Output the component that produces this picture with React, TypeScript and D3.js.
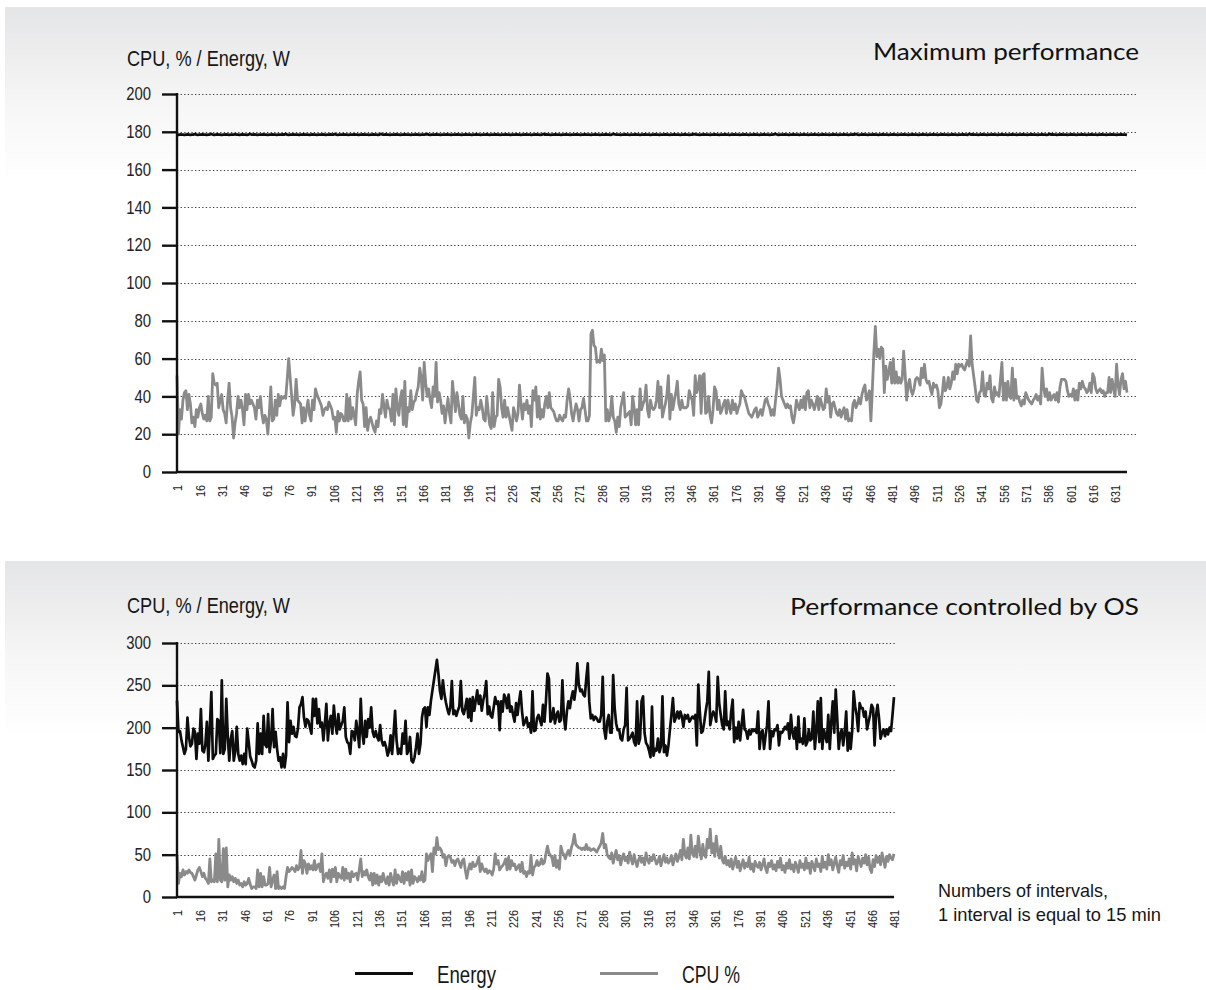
import * as d3 from "d3";
import { useEffect, useRef } from "react";

// ---- data -----------------------------------------------------------------

const MAX_X_LABELS = ["1", "16", "31", "46", "61", "76", "91", "106", "121", "136", "151", "166", "181", "196", "211", "226", "241", "256", "271", "286", "301", "316", "331", "346", "361", "176", "391", "406", "521", "436", "451", "466", "481", "496", "511", "526", "541", "556", "571", "586", "601", "616", "631"];
const OS_X_LABELS = ["1", "16", "31", "46", "61", "76", "91", "106", "121", "136", "151", "166", "181", "196", "211", "226", "241", "256", "271", "286", "301", "316", "331", "346", "361", "176", "391", "406", "521", "436", "451", "466", "481"];

const MAX_Y_TICKS = [0, 20, 40, 60, 80, 100, 120, 140, 160, 180, 200];
const OS_Y_TICKS = [0, 50, 100, 150, 200, 250, 300];

// Maximum performance, CPU % per interval (639 intervals)
const MAX_CPU = [
  51, 20, 33, 28, 38, 42, 43, 33, 41, 36, 26, 29, 24, 33, 29, 34, 36, 31, 28, 30,
  27, 40, 27, 29, 52, 47, 46, 47, 34, 38, 41, 33, 31, 26, 38, 47, 34, 29, 18, 26,
  31, 40, 34, 38, 33, 25, 41, 33, 41, 36, 38, 36, 34, 28, 38, 34, 40, 31, 26, 30,
  28, 20, 31, 45, 27, 28, 38, 30, 41, 35, 40, 39, 40, 39, 49, 60, 50, 40, 30, 36,
  49, 38, 37, 36, 26, 34, 27, 33, 38, 30, 27, 38, 33, 44, 41, 39, 37, 35, 30, 33,
  34, 33, 37, 35, 33, 28, 29, 21, 32, 27, 31, 30, 27, 27, 41, 27, 39, 28, 34, 30,
  25, 41, 48, 53, 38, 36, 24, 34, 22, 27, 29, 26, 23, 21, 27, 24, 33, 31, 41, 35,
  29, 38, 34, 33, 27, 41, 25, 44, 34, 30, 39, 43, 25, 48, 24, 34, 32, 43, 33, 37,
  38, 42, 45, 55, 50, 38, 58, 47, 40, 44, 38, 34, 45, 40, 58, 37, 42, 38, 31, 35,
  26, 33, 39, 31, 26, 48, 40, 32, 42, 36, 30, 28, 40, 26, 30, 28, 18, 26, 30, 40,
  50, 30, 34, 33, 38, 34, 28, 27, 40, 32, 25, 23, 42, 24, 29, 30, 49, 45,
  34, 29, 38, 29, 34, 30, 26, 22, 34, 31, 27, 31, 46, 36, 28, 36, 33, 38, 31, 35,
  24, 43, 38, 45, 29, 40, 28, 33, 29, 36, 40, 34, 42, 34, 33, 32, 29, 27, 27, 30,
  28, 27, 30, 29, 38, 44, 39, 31, 27, 32, 36, 33, 27, 33, 34, 39, 33, 27, 27, 30,
  73, 75, 67, 66, 58, 59, 58, 65, 59, 62, 27, 33, 27, 30, 40, 29, 27, 21, 29, 24,
  34, 38, 42, 29, 30, 31, 32, 25, 40, 34, 25, 33, 25, 44, 33, 36, 38, 46, 33, 29,
  38, 34, 33, 34, 38, 48, 34, 45, 29, 33, 36, 41, 51, 28, 41, 33, 38, 42, 48, 36,
  33, 38, 34, 34, 34, 35, 43, 40, 38, 30, 51, 42, 45, 51, 31, 51, 52, 31, 32, 40,
  30, 26, 33, 45, 43, 33, 38, 31, 33, 36, 38, 31, 38, 34, 31, 38, 33, 36, 31, 34,
  36, 43, 41, 40, 37, 34, 31, 30, 29, 31, 33, 34, 29, 31, 33, 30, 34, 38, 39, 36,
  34, 30, 33, 30, 38, 45, 55, 49, 40, 38, 36, 34, 36, 34, 35, 29, 26, 31, 38, 35,
  33, 38, 34, 40, 33, 42, 43, 34, 38, 36, 33, 36, 40, 33, 39, 36, 33, 34, 44, 37,
  40, 29, 36, 37, 34, 31, 30, 33, 29, 32, 34, 28, 33, 27, 28, 27, 36, 38, 34, 36,
  39, 36, 41, 44, 46, 38, 40, 43, 27,
  44, 63, 77,
  61, 65, 60, 66, 65, 42, 56, 49, 53, 58, 47, 60, 47, 53, 47, 50, 47, 49, 64, 52,
  38, 46, 49, 43, 41, 44, 49, 50, 49, 46, 55, 50, 57, 49, 47, 48, 44, 41, 47, 45,
  46, 43, 34, 36, 42, 50, 43, 45, 50, 44, 47, 53, 49, 57, 52, 57, 56, 57, 55, 54,
  57, 59, 56, 72, 57, 51, 45, 38, 37, 42, 43, 53, 41, 40, 47, 44, 51, 39, 37, 45,
  41, 42, 40, 49, 58, 38, 47, 38, 48, 40, 39, 55, 38, 49, 39, 40, 37, 35, 38, 36,
  42, 40, 38, 37, 36, 38, 39, 41, 38, 40, 36, 55, 45, 40, 44, 38, 42, 38, 40, 41,
  38, 42, 37, 45, 49, 49, 49, 48, 43, 40, 41, 40, 44, 38, 43, 38, 47, 44, 48, 45,
  44, 42, 43, 47, 42, 52, 50, 44, 42, 43, 44, 42, 43, 40, 42, 42, 50, 42, 49, 44,
  40, 57, 46, 41, 49, 52, 44, 48, 42,
];

// Maximum performance, energy W per interval (639 intervals)
const MAX_ENERGY = [
  178.5, 178.4, 178.6, 178.5, 178.5, 178.3, 178.5, 178.6, 178.5, 178.4, 178.5, 178.5, 178.8, 178.5, 178.4, 178.5, 178.5, 178.6, 178.5, 178.5,
  178.4, 178.5, 178.5, 178.9, 178.5, 178.4, 178.5, 178.6, 178.5, 178.5, 178.3, 178.5, 178.5, 178.6, 178.5, 178.4, 178.5, 178.5, 178.5, 178.7,
  178.5, 178.5, 178.4, 178.5, 178.6, 178.5, 178.5, 178.4, 178.5, 178.9, 178.5, 178.5, 178.6, 178.5, 178.4, 178.5, 178.5, 178.5, 178.6, 178.5,
  178.5, 178.3, 178.5, 178.5, 178.6, 178.5, 178.5, 178.4, 178.5, 178.5, 178.5, 178.6, 178.5, 178.8, 178.5, 178.4, 178.5, 178.5, 178.6, 178.5,
  178.5, 178.5, 178.4, 178.5, 178.5, 178.6, 178.5, 178.5, 178.5, 178.4, 178.5, 178.6, 178.5, 178.5, 178.4, 178.5, 178.5, 178.5, 178.6, 178.5,
  178.4, 178.5, 178.5, 178.6, 178.5, 178.5, 178.8, 178.5, 178.4, 178.5, 178.5, 178.5, 178.6, 178.5, 178.5, 178.4, 178.5, 178.5, 178.5, 178.6,
  178.5, 178.5, 178.4, 178.5, 178.5, 178.6, 178.5, 178.5, 178.5, 178.4, 178.5, 178.5, 178.6, 178.5, 178.5, 178.4, 178.5, 178.9, 178.5, 178.5,
  178.6, 178.5, 178.5, 178.4, 178.5, 178.5, 178.5, 178.6, 178.5, 178.5, 178.4, 178.5, 178.5, 178.6, 178.5, 178.5, 178.5, 178.4, 178.5, 178.5,
  178.5, 178.6, 178.5, 178.4, 178.5, 178.5, 178.5, 178.6, 178.8, 178.5, 178.4, 178.5, 178.5, 178.5, 178.6, 178.5, 178.5, 178.4, 178.5, 178.5,
  178.5, 178.6, 178.5, 178.5, 178.4, 178.5, 178.5, 178.5, 178.6, 178.5, 178.5, 178.4, 178.5, 178.5, 178.6, 178.5, 178.5, 178.5, 178.4, 178.5,
  178.5, 178.6, 178.5, 178.5, 178.4, 178.5, 178.5, 178.5, 178.6, 178.5, 178.4, 178.5, 178.5, 178.5, 178.6, 178.5, 178.5, 178.4, 178.5, 178.5,
  178.5, 178.6, 178.5, 178.5, 178.4, 178.5, 178.5, 178.5, 178.6, 178.5, 178.5, 178.4, 178.5, 178.5, 178.6, 178.5, 178.5, 178.5, 178.4, 178.5,
  178.5, 178.6, 178.5, 178.5, 178.4, 178.5, 178.8, 178.5, 178.6, 178.5, 178.5, 178.4, 178.5, 178.5, 178.6, 178.5, 178.5, 178.5, 178.4, 178.5,
  178.5, 178.6, 178.5, 178.5, 178.4, 178.5, 178.5, 178.5, 178.6, 178.5, 178.5, 178.4, 178.5, 178.5, 178.6, 178.5, 178.5, 178.5, 178.4, 178.5,
  178.5, 178.6, 178.5, 178.5, 178.4, 178.5, 178.5, 178.5, 178.6, 178.5, 178.5, 178.4, 178.5, 178.9, 178.6, 178.5, 178.5, 178.5, 178.4, 178.5,
  178.5, 178.6, 178.5, 178.5, 178.4, 178.5, 178.5, 178.5, 178.6, 178.5, 178.5, 178.4, 178.5, 178.5, 178.6, 178.5, 178.5, 178.5, 178.4, 178.5,
  178.5, 178.6, 178.5, 178.5, 178.4, 178.5, 178.5, 178.5, 178.6, 178.5, 178.5, 178.4, 178.5, 178.5, 178.6, 178.5, 178.5, 178.5, 178.4, 178.5,
  178.5, 178.6, 178.5, 178.5, 178.4, 178.5, 178.5, 178.8, 178.6, 178.5, 178.5, 178.4, 178.5, 178.5, 178.6, 178.5, 178.5, 178.5, 178.4, 178.5,
  178.5, 178.6, 178.5, 178.5, 178.4, 178.5, 178.5, 178.5, 178.6, 178.5, 178.5, 178.4, 178.5, 178.5, 178.6, 178.5, 178.5, 178.5, 178.4, 178.5,
  178.5, 178.6, 178.5, 178.5, 178.4, 178.5, 178.5, 178.5, 178.6, 178.5, 178.5, 178.4, 178.5, 178.5, 178.6, 178.5, 178.5, 178.5, 178.4, 178.5,
  178.5, 178.6, 178.9, 178.5, 178.4, 178.5, 178.5, 178.5, 178.6, 178.5, 178.5, 178.4, 178.5, 178.5, 178.6, 178.5, 178.5, 178.5, 178.4, 178.5,
  178.5, 178.6, 178.5, 178.5, 178.4, 178.5, 178.5, 178.5, 178.6, 178.5, 178.5, 178.4, 178.5, 178.5, 178.6, 178.5, 178.5, 178.5, 178.4, 178.5,
  178.5, 178.6, 178.5, 178.5, 178.4, 178.5, 178.5, 178.5, 178.6, 178.5, 178.5, 178.4, 178.5, 178.5, 178.6, 178.5, 178.8, 178.5, 178.4, 178.5,
  178.5, 178.6, 178.5, 178.5, 178.4, 178.5, 178.5, 178.5, 178.6, 178.5, 178.5, 178.4, 178.5, 178.5, 178.6, 178.5, 178.5, 178.5, 178.4, 178.5,
  178.5, 178.6, 178.5, 178.5, 178.4, 178.5, 178.5, 178.5, 178.6, 178.5, 178.5, 178.4, 178.5, 178.5, 178.6, 178.5, 178.5, 178.5, 178.4, 178.5,
  178.5, 178.6, 178.5, 178.5, 178.4, 178.5, 178.5, 178.5, 178.6, 178.5, 178.5, 178.4, 178.5, 178.5, 178.6, 178.5, 178.5, 178.5, 178.4, 178.5,
  178.5, 178.6, 178.5, 178.5, 178.4, 178.5, 178.5, 178.5, 178.6, 178.5, 178.5, 178.4, 178.9, 178.5, 178.6, 178.5, 178.5, 178.5, 178.4, 178.5,
  178.5, 178.6, 178.5, 178.5, 178.4, 178.5, 178.5, 178.5, 178.6, 178.5, 178.5, 178.4, 178.5, 178.5, 178.6, 178.5, 178.5, 178.5, 178.4, 178.5,
  178.5, 178.6, 178.5, 178.5, 178.4, 178.5, 178.5, 178.5, 178.6, 178.5, 178.5, 178.4, 178.5, 178.5, 178.6, 178.5, 178.5, 178.5, 178.4, 178.5,
  178.5, 178.6, 178.5, 178.5, 178.4, 178.5, 178.8, 178.5, 178.6, 178.5, 178.5, 178.4, 178.5, 178.5, 178.6, 178.5, 178.5, 178.5, 178.4, 178.5,
  178.5, 178.6, 178.5, 178.5, 178.4, 178.5, 178.5, 178.5, 178.6, 178.5, 178.5, 178.4, 178.5, 178.5, 178.6, 178.5, 178.5, 178.5, 178.4, 178.5,
  178.5, 178.6, 178.5, 178.5, 178.4, 178.5, 178.5, 178.5, 178.6, 178.5, 178.5, 178.4, 178.5, 178.5, 178.6, 178.5, 178.5, 178.5, 178.4,
];

// Performance controlled by OS, energy W per interval (481 intervals)
const OS_ENERGY = [
  232, 195, 196, 185, 177, 169, 175, 212, 189, 178, 181, 199, 195, 163, 193, 181, 222, 173, 171, 180,
  207, 161, 201, 242, 163, 167, 169, 210, 208, 170, 256, 169, 175, 234, 189, 161, 187, 196, 161, 172,
  201, 169, 161, 167, 157, 169, 157, 199, 183, 166, 161, 155, 153, 161, 205, 169, 193, 169, 214, 180,
  177, 216, 171, 185, 222, 177, 195, 175, 161, 165, 153, 169, 153, 167, 230, 183, 208, 193, 201, 190,
  189, 199, 224, 228, 236, 212, 201, 210, 208, 200, 193, 234, 214, 234, 205, 222, 201, 206, 185, 205,
  228, 185, 205, 214, 193, 226, 205, 193, 216, 198, 203, 208, 224, 189, 183, 181, 169, 196, 195, 185,
  208, 195, 177, 234, 195, 181, 208, 189, 210, 200, 224, 195, 189, 196, 189, 185, 203, 185, 179, 183,
  177, 167, 173, 191, 169, 193, 220, 185, 169, 175, 169, 193, 181, 208, 169, 173, 189, 161, 159, 165,
  177, 193, 169, 181, 212, 222, 224, 201, 224, 215, 232, 244, 256, 268, 280, 264, 244, 234, 256, 240,
  230, 222, 216, 224, 255, 216, 220, 214, 220, 225, 255, 220, 216, 224, 234, 212, 234, 208, 236, 220,
  232, 244, 228, 238, 220, 232, 240, 255, 216, 225, 214, 212, 224, 236, 228,
  231, 197, 231, 219, 239, 235, 223, 239, 219, 225, 215, 207, 229, 215, 231, 243, 219, 203, 207, 212,
  201, 205, 194, 243, 196, 197, 211, 215, 209, 203, 227, 207, 231, 264, 258, 207, 211, 223, 205, 215,
  219, 207, 209, 256, 213, 198, 219, 231, 223, 235, 243, 233, 247, 276, 251, 243, 245, 239, 237, 258,
  276, 231, 211, 215, 209, 213, 211, 207, 207, 215, 260, 198, 187, 207, 215, 194, 194, 262, 223, 205,
  197, 198, 187, 185, 198, 203, 247, 185, 187, 190, 194, 183, 179, 231, 181, 187, 231, 237, 194, 182,
  179, 173, 165, 225, 167, 175, 173, 187, 171, 178, 237, 171, 179, 167, 179, 198, 215, 235, 207, 212,
  219, 211, 219, 213, 201, 215, 211, 215, 207, 210, 213, 211, 215, 179, 251, 219, 194, 196, 207, 220,
  231, 266, 203, 213, 219, 215, 207, 260, 229, 215, 203, 198, 243, 203, 207, 198, 219, 233, 183, 200,
  187, 207, 185, 203, 221, 198, 196, 187, 197, 192, 198, 196, 198, 194, 219, 175, 194, 197, 175, 190,
  203, 231, 175, 196, 190, 198, 197, 203, 179, 195, 194, 197, 201, 198, 205, 187, 215, 194, 187, 200,
  175, 213, 183, 187, 181, 211, 179, 183, 198, 185, 187, 219, 175, 196, 231, 183, 235, 175, 198, 190,
  183, 215, 175, 207, 231, 194, 245, 211, 175, 192, 198, 179, 194, 219, 173, 194, 175, 196, 243, 225,
  215, 196, 229, 223, 223, 213, 219, 198, 207, 215, 227, 223, 179, 215, 227, 211, 187, 194, 198, 190,
  198, 192, 200, 196, 215, 236,
];

// Performance controlled by OS, CPU % per interval (481 intervals)
const OS_CPU = [
  50, 16, 28, 24, 32, 26, 30, 28, 32, 29, 28, 24, 20, 26, 32, 35, 30, 24, 28, 22,
  20, 16, 45, 18, 20, 18, 51, 18, 68, 20, 18, 57, 20, 58, 12, 26, 20, 24, 18, 22,
  16, 20, 14, 16, 12, 18, 14, 16, 22, 15, 10, 12, 12, 10, 32, 12, 28, 12, 24, 14,
  14, 16, 35, 12, 20, 26, 10, 30, 10, 12, 10, 12, 10, 24, 35, 30, 32, 35, 33, 30,
  37, 32, 35, 55, 28, 43, 39, 28, 39, 33, 37, 32, 43, 32, 37, 39, 30, 51, 18, 25,
  28, 22, 32, 18, 33, 24, 35, 18, 28, 24, 22, 35, 20, 33, 22, 28, 18, 30, 24, 27,
  28, 20, 32, 45, 24, 30, 26, 32, 24, 20, 28, 14, 28, 16, 26, 14, 24, 18, 28, 20,
  16, 24, 14, 28, 20, 14, 32, 16, 26, 22, 18, 30, 16, 28, 20, 30, 14, 32, 16, 24,
  22, 18, 24, 20, 30, 18, 20, 51, 43, 48, 51, 30, 58, 51, 70, 56, 58, 55, 47, 50,
  37, 47, 49, 47, 41, 43, 37, 43, 45, 40, 35, 43, 45, 32, 22, 32, 39, 33, 41, 36,
  37, 41, 47, 30, 39, 33, 30, 33, 28, 31, 30, 26, 33, 51, 39, 43, 32, 35, 37, 40,
  45, 32, 47, 33, 43, 37, 39, 32, 35, 38, 30, 41, 28, 30, 24, 30, 28, 49, 26, 35,
  37, 43, 37, 39, 45, 39, 41, 51, 60, 52, 49, 47, 37, 49, 35, 43, 33, 60, 53, 50,
  45, 51, 55, 49, 58, 64, 74, 62, 60, 58, 58, 56, 58, 56, 62, 56, 58, 55, 56, 57,
  55, 53,
  57, 60, 64, 75, 58, 62, 50, 47,
  45, 52, 40, 48, 55, 44, 49, 38, 46, 51, 43, 47, 40, 53, 45, 39, 50, 42, 36, 44,
  48, 41, 46, 38, 52, 44, 40, 47, 43, 50, 45, 39, 42, 48, 37, 44, 50, 41, 46, 40,
  43, 49, 38, 45, 51, 42, 47, 55, 44, 68, 50, 46, 58, 45, 73, 52, 48, 60, 47, 72,
  55, 45, 62, 50, 47, 68, 58, 80, 52, 63, 48, 72, 55, 46, 60, 44, 40, 48, 38, 43,
  36, 45, 33, 40, 47, 35, 42, 31, 38, 44, 34, 40, 36, 47, 33, 39, 30, 42, 37, 35,
  41, 32, 38, 45, 34, 29, 40, 36, 43, 33, 38, 31, 42, 35, 46, 32, 37, 29, 40, 34,
  44, 33, 38, 30, 41, 36, 29, 43, 35, 39, 32, 46, 34, 40, 28, 42, 37, 31, 45, 36,
  39, 30, 48, 35, 41, 33, 50, 38, 44, 32, 40, 47, 36, 29, 43, 38, 49, 34, 41, 37,
  45, 33, 52, 39, 44, 31, 48, 42, 36, 46, 40, 50, 38, 47, 33, 29, 44, 36, 49, 41,
  47, 38, 52, 44, 35, 48, 42, 50, 46, 44, 51,
];

// ---- styling --------------------------------------------------------------

// no condensed face is installed, so plain Liberation Sans is squeezed horizontally
const NARROW = "'Liberation Sans', Arimo, Arial, sans-serif";
const SQUEEZE = 0.8;
const TITLE_FONT = "Lato, 'Open Sans', sans-serif";
const CPU_COLOR = "#8a8a8a";
const ENERGY_COLOR = "#0d0d0d";
const AXIS_X = 177;

type Panel = {
  title: string;
  titleWidth: number;
  cpu: number[];
  energy: number[];
  yTicks: number[];
  xLabels: string[];
  bgY: number;
  titleY: number;
  axisTitleY: number;
  yTop: number;
  yBottom: number;
  xEnd: number;
  gridEnd: number;
};

type Sel = d3.Selection<SVGSVGElement, unknown, null, undefined>;

function narrowText(
  parent: d3.Selection<any, unknown, null, undefined>,
  x: number,
  y: number,
  size: number,
  width: number,
  label: string
) {
  return parent
    .append("text")
    .attr("x", x)
    .attr("y", y)
    .attr("font-family", NARROW)
    .attr("font-size", size)
    .attr("textLength", width)
    .attr("lengthAdjust", "spacingAndGlyphs")
    .attr("fill", "#161616")
    .text(label);
}

function drawPanel(svg: Sel, p: Panel) {
  const x = d3.scaleLinear().domain([1, p.energy.length]).range([AXIS_X, p.xEnd]);
  const y = d3
    .scaleLinear()
    .domain([0, p.yTicks[p.yTicks.length - 1]])
    .range([p.yBottom, p.yTop]);

  const g = svg.append("g");

  // faded band behind the panel header
  g.append("rect")
    .attr("x", 5)
    .attr("y", p.bgY)
    .attr("width", 1201)
    .attr("height", 175)
    .attr("fill", "url(#panelFade)");

  // dotted gridlines
  g.append("g")
    .selectAll("line")
    .data(p.yTicks.filter(v => v > 0))
    .join("line")
    .attr("x1", AXIS_X)
    .attr("x2", p.gridEnd)
    .attr("y1", d => Math.round(y(d)) + 0.5)
    .attr("y2", d => Math.round(y(d)) + 0.5)
    .attr("stroke", "#3a3a3a")
    .attr("stroke-width", 1)
    .attr("stroke-dasharray", "1.3 2.3");

  // Y axis ticks + labels
  const yAxis = g
    .append("g")
    .attr("transform", `translate(${AXIS_X},0)`)
    .call(d3.axisLeft(y).tickValues(p.yTicks).tickSize(15).tickPadding(11));
  yAxis.select(".domain").remove();
  yAxis.selectAll(".tick line").attr("stroke", "#111").attr("stroke-width", 2.4);
  yAxis
    .selectAll(".tick text")
    .attr("x", 0)
    .attr("transform", `translate(-26,0) scale(${SQUEEZE + 0.05},1)`)
    .attr("font-family", NARROW)
    .attr("font-size", 17.5)
    .attr("fill", "#222");

  // X axis labels (every 15th interval), rotated
  const tickIdx = p.xLabels.map((_, i) => 1 + 15 * i);
  const xAxis = g
    .append("g")
    .attr("transform", `translate(0,${p.yBottom})`)
    .call(
      d3
        .axisBottom(x)
        .tickValues(tickIdx)
        .tickSize(0)
        .tickFormat((_, i) => p.xLabels[i])
    );
  xAxis.select(".domain").remove();
  xAxis
    .selectAll(".tick text")
    .attr("x", 0)
    .attr("y", 0)
    .attr("transform", `rotate(-90) translate(-13,0) scale(${SQUEEZE},1)`)
    .attr("dy", "0.36em")
    .attr("text-anchor", "end")
    .attr("font-family", NARROW)
    .attr("font-size", 13.5)
    .attr("fill", "#222");

  // series
  const line = d3
    .line<number>()
    .x((_, i) => x(i + 1))
    .y(d => y(d));

  g.append("path")
    .datum(p.cpu)
    .attr("d", line)
    .attr("fill", "none")
    .attr("stroke", CPU_COLOR)
    .attr("stroke-width", 2.8)
    .attr("stroke-linejoin", "round");

  g.append("path")
    .datum(p.energy)
    .attr("d", line)
    .attr("fill", "none")
    .attr("stroke", ENERGY_COLOR)
    .attr("stroke-width", 2.7)
    .attr("stroke-linejoin", "round");

  // axis lines
  g.append("line")
    .attr("x1", AXIS_X)
    .attr("x2", AXIS_X)
    .attr("y1", y(p.yTicks[p.yTicks.length - 1]) - 1)
    .attr("y2", p.yBottom + 1)
    .attr("stroke", "#111")
    .attr("stroke-width", 2.4);
  g.append("line")
    .attr("x1", AXIS_X - 1)
    .attr("x2", p.xEnd)
    .attr("y1", p.yBottom)
    .attr("y2", p.yBottom)
    .attr("stroke", "#111")
    .attr("stroke-width", 2.6);

  // titles
  narrowText(g, 127, p.axisTitleY, 22.5, 163, "CPU, % / Energy, W");

  g.append("text")
    .attr("x", 1139 - p.titleWidth)
    .attr("y", p.titleY)
    .attr("font-family", TITLE_FONT)
    .attr("font-size", 24)
    .attr("textLength", p.titleWidth)
    .attr("lengthAdjust", "spacingAndGlyphs")
    .attr("fill", "#111")
    .text(p.title);
}

export default function App() {
  const svgRef = useRef<SVGSVGElement | null>(null);

  useEffect(() => {
    const svg = d3.select(svgRef.current!);
    svg.selectAll("*").remove();

    const grad = svg
      .append("defs")
      .append("linearGradient")
      .attr("id", "panelFade")
      .attr("x1", 0)
      .attr("y1", 0)
      .attr("x2", 0)
      .attr("y2", 1);
    grad.append("stop").attr("offset", 0).attr("stop-color", "#e4e5e6");
    grad.append("stop").attr("offset", 0.55).attr("stop-color", "#f6f6f6");
    grad.append("stop").attr("offset", 1).attr("stop-color", "#ffffff");

    drawPanel(svg, {
      title: "Maximum performance",
      titleWidth: 266,
      cpu: MAX_CPU,
      energy: MAX_ENERGY,
      yTicks: MAX_Y_TICKS,
      xLabels: MAX_X_LABELS,
      bgY: 7,
      titleY: 60,
      axisTitleY: 66,
      yTop: 94,
      yBottom: 472,
      xEnd: 1127,
      gridEnd: 1136,
    });

    drawPanel(svg, {
      title: "Performance controlled by OS",
      titleWidth: 349,
      cpu: OS_CPU,
      energy: OS_ENERGY,
      yTicks: OS_Y_TICKS,
      xLabels: OS_X_LABELS,
      bgY: 561,
      titleY: 615,
      axisTitleY: 613,
      yTop: 643,
      yBottom: 897,
      xEnd: 894,
      gridEnd: 895,
    });

    // note under the second chart
    narrowText(svg, 938, 897, 18.5, 170, "Numbers of intervals,");
    narrowText(svg, 938, 921, 18.5, 223, "1 interval is equal to 15 min");

    // legend
    const legend = [
      { label: "Energy", color: ENERGY_COLOR, x: 355, w: 59 },
      { label: "CPU %", color: CPU_COLOR, x: 600, w: 58 },
    ];
    const lg = svg.append("g");
    legend.forEach(item => {
      lg.append("line")
        .attr("x1", item.x)
        .attr("x2", item.x + 58)
        .attr("y1", 973.5)
        .attr("y2", 973.5)
        .attr("stroke", item.color)
        .attr("stroke-width", 3);
      narrowText(lg, item.x + 82, 983, 23, item.w, item.label);
    });
  }, []);

  return (
    <svg
      ref={svgRef}
      width={1206}
      height={990}
      style={{ position: "absolute", left: 0, top: 0, display: "block", background: "#fff" }}
    />
  );
}
